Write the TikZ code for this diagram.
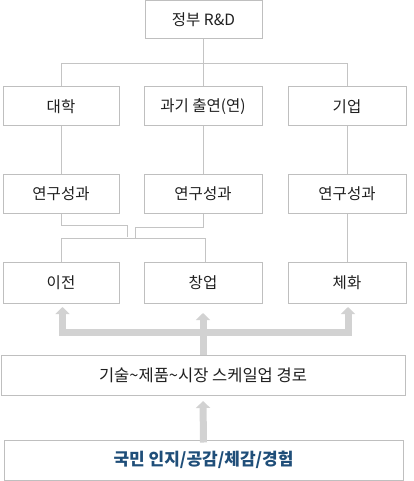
\documentclass[tikz,border=0pt]{standalone}
\usepackage{fontspec}
\setmainfont{Noto Sans CJK KR}
\usetikzlibrary{arrows.meta}
\definecolor{boxgray}{HTML}{BFBFBF}
\definecolor{linegray}{HTML}{C4C4C4}
\definecolor{arrgray}{HTML}{D2D2D2}
\definecolor{txt}{HTML}{202020}
\definecolor{navy}{HTML}{1F4E79}
\begin{document}
\begin{tikzpicture}[x=1pt,y=-1pt,
  box/.style={draw=boxgray,line width=1pt,fill=white,inner sep=0pt,minimum height=39pt,text=txt,font=\fontsize{15.5pt}{18pt}\selectfont},
  conn/.style={draw=linegray,line width=1pt},
  bigarrow/.style={draw=arrgray,line width=7pt,line join=miter,-{Triangle[width=14pt,length=7pt]}},
  bigarrow2/.style={draw=arrgray,line width=7pt,line join=miter,{Triangle[width=14pt,length=7pt]}-{Triangle[width=14pt,length=7pt]}}]
\useasboundingbox (0,0) rectangle (414,481);
% nodes
\node[box,minimum width=117pt,minimum height=38pt] (gov) at (203.5,20) {정부 R\&D};
\node[box,minimum width=116pt] (univ) at (61,106.5) {대학};
\node[box,minimum width=118pt] (inst) at (203,106.5) {과기 출연(연)};
\node[box,minimum width=118pt] (ent) at (347,106.5) {기업};
\node[box,minimum width=116pt] (r1) at (61,193.5) {연구성과};
\node[box,minimum width=118pt] (r2) at (203,193.5) {연구성과};
\node[box,minimum width=118pt] (r3) at (347,193.5) {연구성과};
\node[box,minimum width=116pt,minimum height=41pt] (transfer) at (61,282.5) {이전};
\node[box,minimum width=118pt,minimum height=41pt] (startup) at (203,282.5) {창업};
\node[box,minimum width=118pt,minimum height=41pt] (embody) at (347,282.5) {체화};
\node[box,minimum width=404pt,minimum height=40pt,font=\fontsize{16.5pt}{19pt}\selectfont] (scale) at (203,375) {기술\char`\~제품\char`\~시장 스케일업 경로};
\node[box,minimum width=399pt,minimum height=40pt,text=navy,font=\fontsize{17pt}{20pt}\selectfont\bfseries] (people) at (203.5,460) {국민 인지/공감/체감/경험};
% connectors
\coordinate (hb) at (204,64);
\draw[conn] (gov.south) -- (gov.south|-inst.north);
\draw[conn] (univ.north) -- (univ.north|-hb) -- (ent.north|-hb) -- (ent.north);
\draw[conn] (univ) -- (r1);
\draw[conn] (inst) -- (r2);
\draw[conn] (ent) -- (r3);
\draw[conn] (r3) -- (embody);
\coordinate (j1) at (127,225.5);
\coordinate (j1e) at (127,237);
\coordinate (j2) at (135.5,227);
\coordinate (j2e) at (135.5,238.5);
\coordinate (jr) at (205.5,238);
\draw[conn] (r1.south) |- (j1) -- (j1e);
\draw[conn] (r2.south) |- (j2) -- (j2e);
\draw[conn] (transfer.north) |- (jr) -- (jr|-startup.north);
% block arrows
\coordinate (tipL) at (62.5,307);
\coordinate (cL) at (62.5,332);
\coordinate (cR) at (348,332);
\coordinate (tipR) at (348,307);
\coordinate (tipM) at (203,313);
\coordinate (tipB) at (203,401);
\draw[bigarrow2] (tipL) -- (cL) -- (cR) -- (tipR);
\draw[bigarrow] (scale.north) -- (tipM);
\draw[bigarrow] ([yshift=-3pt]people.north) -- (tipB);
\end{tikzpicture}
\end{document}
